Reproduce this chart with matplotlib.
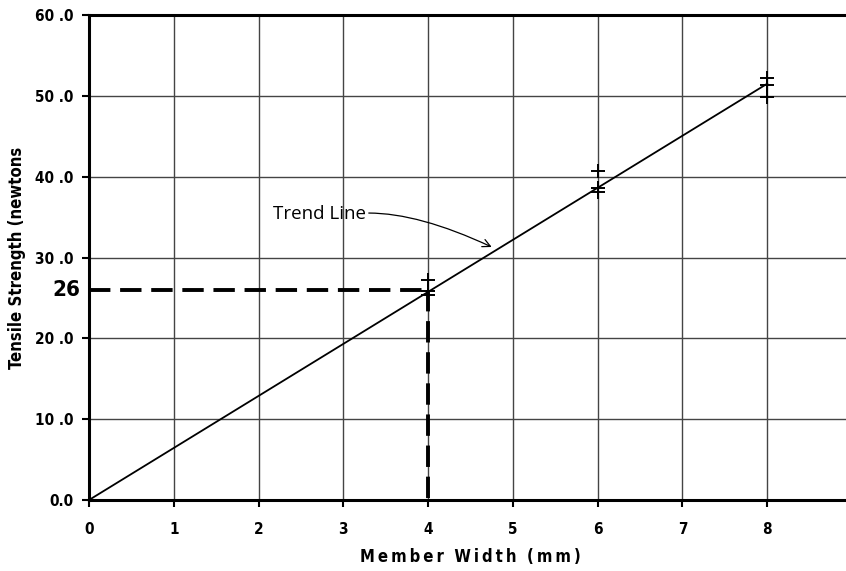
import matplotlib.pyplot as plt

width_4 = [4, 4, 4]
strength_4 = [27.2, 25.8, 25.4]
width_6 = [6, 6, 6]
strength_6 = [40.7, 38.6, 38.1]
width_8 = [8, 8, 8]
strength_8 = [52.2, 51.4, 49.9]

trend_x = [0, 8]
trend_y = [0, 51.5]

read_x = 4
read_y = 26

xticks = [0, 1, 2, 3, 4, 5, 6, 7, 8, 9]
yticks = [0, 10, 20, 30, 40, 50, 60]
ytick_labels = ['0.0', '10 .0', '20 .0', '30 .0', '40 .0', '50 .0', '60 .0']

cond = dict(family='DejaVu Sans', stretch='condensed', weight='bold')

fig = plt.figure(figsize=(8.46, 5.71), dpi=100)
ax = fig.add_axes([89 / 846, 1 - 500 / 571, (852 - 89) / 846, 485 / 571])

ax.set_xlim(0, 9)
ax.set_ylim(0, 60)
ax.set_xticks(xticks)
ax.set_yticks(yticks)
ax.set_yticklabels(ytick_labels)
ax.grid(True, color='#444444', linewidth=1)
ax.set_axisbelow(True)

for side in ['left', 'bottom', 'top']:
    ax.spines[side].set_linewidth(2.2)
    ax.spines[side].set_color('black')
ax.spines['right'].set_visible(False)

ax.tick_params(axis='both', direction='out', length=5, width=1.5, colors='black',
               labelsize=11)
for lab in ax.get_xticklabels() + ax.get_yticklabels():
    lab.set_family(cond['family'])
    lab.set_stretch('condensed')
    lab.set_fontweight('bold')
ax.tick_params(axis='x', pad=11)
ax.tick_params(axis='y', pad=6)

# trend line
ax.plot(trend_x, trend_y, color='black', linewidth=1.3, zorder=3)

# measurement markers
for xs, ys in [(width_4, strength_4), (width_6, strength_6), (width_8, strength_8)]:
    ax.plot(xs, ys, linestyle='none', marker='+', markersize=10,
            markeredgewidth=1.4, color='black', zorder=4)

# reading lines for 26 N at 4 mm
ax.plot([0, read_x], [read_y, read_y], color='black', linewidth=2.8,
        linestyle=(0, (5.5, 2.5)), zorder=5, clip_on=False)
ax.plot([read_x, read_x], [read_y, 0], color='black', linewidth=2.8,
        linestyle=(0, (5.5, 2.5)), zorder=5, clip_on=False)
ax.text(-0.1, read_y, '26', ha='right', va='center', fontsize=16, **cond)

# annotation
ax.text(3.27, 35.4, 'Trend Line', ha='right', va='center', fontsize=13.5,
        family='Open Sans')
ax.annotate('', xy=(4.75, 31.3), xytext=(3.3, 35.5),
            arrowprops=dict(arrowstyle='->', color='black', lw=0.9,
                            connectionstyle='angle3,angleA=0,angleB=-25',
                            shrinkA=0, shrinkB=0, mutation_scale=14))

ax.set_xlabel('M\u2009e\u2009m\u2009b\u2009e\u2009r  W\u2009i\u2009d\u2009t\u2009h  (\u2009m\u2009m\u2009)',
              fontsize=12, labelpad=8, **cond)
ax.set_ylabel('Tensile Strength (newtons', fontsize=12, **cond)
ax.yaxis.set_label_coords((26 - 89) / 763, 0.5)

fig.savefig('out.png', dpi=100)
